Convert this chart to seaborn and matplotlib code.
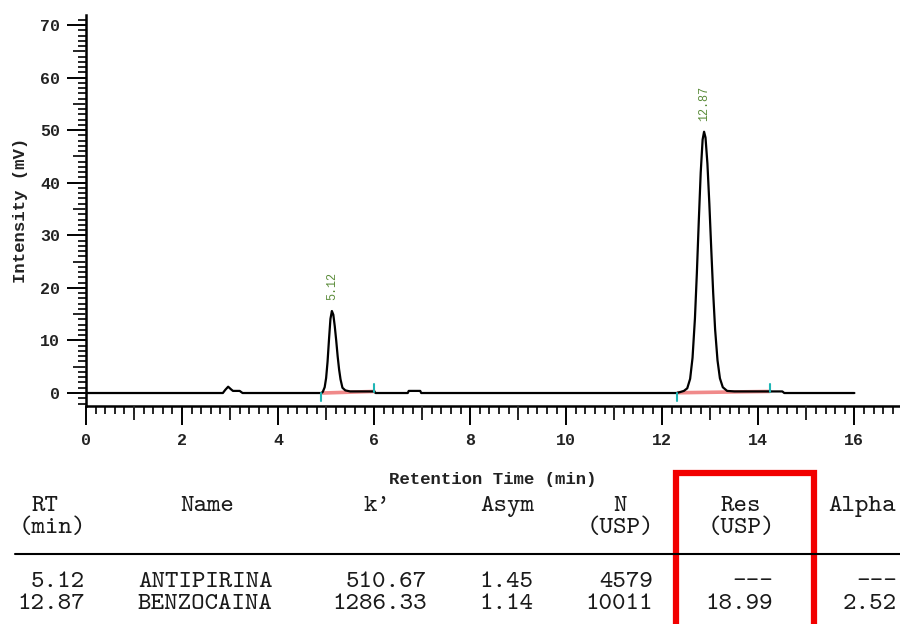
import numpy as np
import pandas as pd
import seaborn as sns
import matplotlib
matplotlib.use("Agg")
import matplotlib.pyplot as plt
from matplotlib.patches import Rectangle
from matplotlib.lines import Line2D

# ---------------- data ----------------
time_min = [0.00, 2.85, 2.90, 2.96, 3.02, 3.06, 3.20, 3.26,
            4.90, 4.93, 4.97, 5.00, 5.03, 5.06, 5.09, 5.12, 5.15, 5.18, 5.21,
            5.24, 5.27, 5.30, 5.34, 5.40, 5.50, 6.00, 6.03,
            6.70, 6.72, 6.96, 6.98,
            12.30, 12.38, 12.45, 12.52, 12.58, 12.63, 12.68, 12.72, 12.76, 12.80,
            12.84, 12.87, 12.90, 12.94, 12.98, 13.02, 13.06, 13.10, 13.15, 13.20,
            13.26, 13.35, 13.50, 14.24, 14.50, 14.54, 16.00]
intensity_mv = [0.0, 0.0, 0.6, 1.2, 0.7, 0.4, 0.4, 0.0,
                0.0, 0.2, 1.1, 2.85, 5.95, 10.2, 14.1, 15.6, 14.9, 12.7, 10.0,
                7.0, 4.5, 2.6, 1.0, 0.5, 0.3, 0.3, 0.0,
                0.0, 0.4, 0.4, 0.0,
                0.0, 0.2, 0.4, 0.9, 2.7, 6.7, 14.2, 22.8, 32.7, 41.9,
                48.2, 49.7, 48.6, 43.6, 36.0, 27.3, 19.0, 12.1, 6.2, 2.8,
                1.1, 0.4, 0.3, 0.3, 0.3, 0.0, 0.0]

peak_rt = [5.12, 12.87]
peak_height = [15.6, 49.7]
peak_label = ["5.12", "12.87"]
peak_start = [4.90, 12.30]
peak_end = [6.00, 14.24]
start_level = [0.0, 0.05]
end_level = [0.3, 0.3]

x_major = [0, 2, 4, 6, 8, 10, 12, 14, 16]
y_major = [0, 10, 20, 30, 40, 50, 60, 70]

# results table
tbl_rt = ["5.12", "12.87"]
tbl_name = ["ANTIPIRINA", "BENZOCAINA"]
tbl_k = ["510.67", "1286.33"]
tbl_asym = ["1.45", "1.14"]
tbl_n = ["4579", "10011"]
tbl_res = ["---", "18.99"]
tbl_alpha = ["---", "2.52"]

# ---------------- style ----------------
sns.set_theme(style="ticks")
plt.rcParams['font.family'] = ['Liberation Mono', 'DejaVu Sans Mono']

W, H = 900, 624
fig = plt.figure(figsize=(9, 6.24), dpi=100)
fig.patch.set_facecolor("white")

def fx(px):
    return px / W

def fy(py):
    return 1 - py / H

ax = fig.add_axes([fx(86), fy(406), fx(900) - fx(86), fy(15) - fy(406)])
ax.set_facecolor("white")

df = pd.DataFrame({"t": time_min, "i": intensity_mv})
sns.lineplot(data=df, x="t", y="i", ax=ax, color="black", lw=1.6,
             estimator=None, sort=False, zorder=3)

# integration baselines and start/end markers
for s, e, sl, el in zip(peak_start, peak_end, start_level, end_level):
    ax.plot([s + 0.03, e], [sl, el], color="#f08a8a", lw=2.6, zorder=2)
    ax.plot([s, s], [sl - 1.6, sl], color="#1fb5b5", lw=1.5, zorder=4)
    ax.plot([e, e], [el - 0.1, el + 1.4], color="#1fb5b5", lw=1.5, zorder=4)

for rt, h, lab in zip(peak_rt, peak_height, peak_label):
    ax.text(rt, h + 2.1, lab, rotation=90, ha="center", va="bottom",
            fontsize=8.5, color="#5b8c3a", family=['Liberation Mono'])

ax.set_xlim(0, 16.95)
ax.set_ylim(-2.47, 71.9)
for sp in ["top", "right"]:
    ax.spines[sp].set_visible(False)
for sp in ["left", "bottom"]:
    ax.spines[sp].set_linewidth(1.8)
    ax.spines[sp].set_color("black")

ax.set_xticks(x_major)
ax.set_yticks(y_major)
ax.set_xticks(np.arange(-0.0, 17.0, 0.2), minor=True)
ax.set_yticks(np.arange(-2, 72, 1), minor=True)
ax.tick_params(axis="both", which="major", direction="out", length=13.5, width=1.4,
               color="black", labelsize=12, labelcolor="#222222")
ax.tick_params(axis="both", which="minor", direction="out", length=5.5, width=1.2,
               color="black")
ax.tick_params(axis="x", which="major", pad=6)
ax.tick_params(axis="y", which="major", pad=5)
for lab in ax.get_xticklabels() + ax.get_yticklabels():
    lab.set_fontweight("bold")

ax.set_xlabel("Retention Time (min)", fontsize=12.5, fontweight="bold",
              color="#222222", labelpad=17)
ax.set_ylabel("Intensity (mV)", fontsize=12.5, fontweight="bold",
              color="#222222", labelpad=9)

# medium ticks at odd integers / multiples of 5
axm = ax.twiny()
axm.set_xlim(ax.get_xlim())
axm.xaxis.set_ticks_position("bottom")
axm.set_xticks(np.arange(1, 17, 2))
axm.tick_params(axis="x", which="major", direction="out", length=10, width=1.4,
                labelbottom=False, labeltop=False)
for sp in axm.spines.values():
    sp.set_visible(False)

axn = ax.twinx()
axn.set_ylim(ax.get_ylim())
axn.yaxis.set_ticks_position("left")
axn.set_yticks(np.arange(5, 71, 10))
axn.tick_params(axis="y", which="major", direction="out", length=9.5, width=1.4,
                labelleft=False, labelright=False)
for sp in axn.spines.values():
    sp.set_visible(False)

# ---------------- table ----------------
tc = "#1a1a1a"
fs = 18.5
def t(px, py, s, ha):
    fig.text(fx(px), fy(py), s, ha=ha, va="baseline", fontsize=fs, color=tc,
             family=['cmtt10'])

hdr1 = 511
hdr2 = 533
t(45, hdr1, "RT", "center")
t(52, hdr2, "(min)", "center")
t(207, hdr1, "Name", "center")
t(377, hdr1, "k'", "center")
t(507, hdr1, "Asym", "center")
t(620, hdr1, "N", "center")
t(620, hdr2, "(USP)", "center")
t(741, hdr1, "Res", "center")
t(741, hdr2, "(USP)", "center")
t(862, hdr1, "Alpha", "center")

fig.add_artist(Line2D([fx(15), fx(900)], [fy(554), fy(554)], color="black",
                      lw=1.5, transform=fig.transFigure))

row_y = [587, 609]
for i in range(len(tbl_rt)):
    y = row_y[i]
    t(85, y, tbl_rt[i], "right")
    t(138, y, tbl_name[i], "left")
    t(427, y, tbl_k[i], "right")
    t(533, y, tbl_asym[i], "right")
    t(653, y, tbl_n[i], "right")
    t(773, y, tbl_res[i], "right")
    t(897, y, tbl_alpha[i], "right")

# red highlight box around Res column
fig.add_artist(Rectangle((fx(676), fy(640)), fx(813.5) - fx(676), fy(473) - fy(640),
                         fill=False, edgecolor="#f20000", lw=4.5,
                         transform=fig.transFigure, clip_on=False))

fig.savefig("out.png", dpi=100, facecolor="white")
